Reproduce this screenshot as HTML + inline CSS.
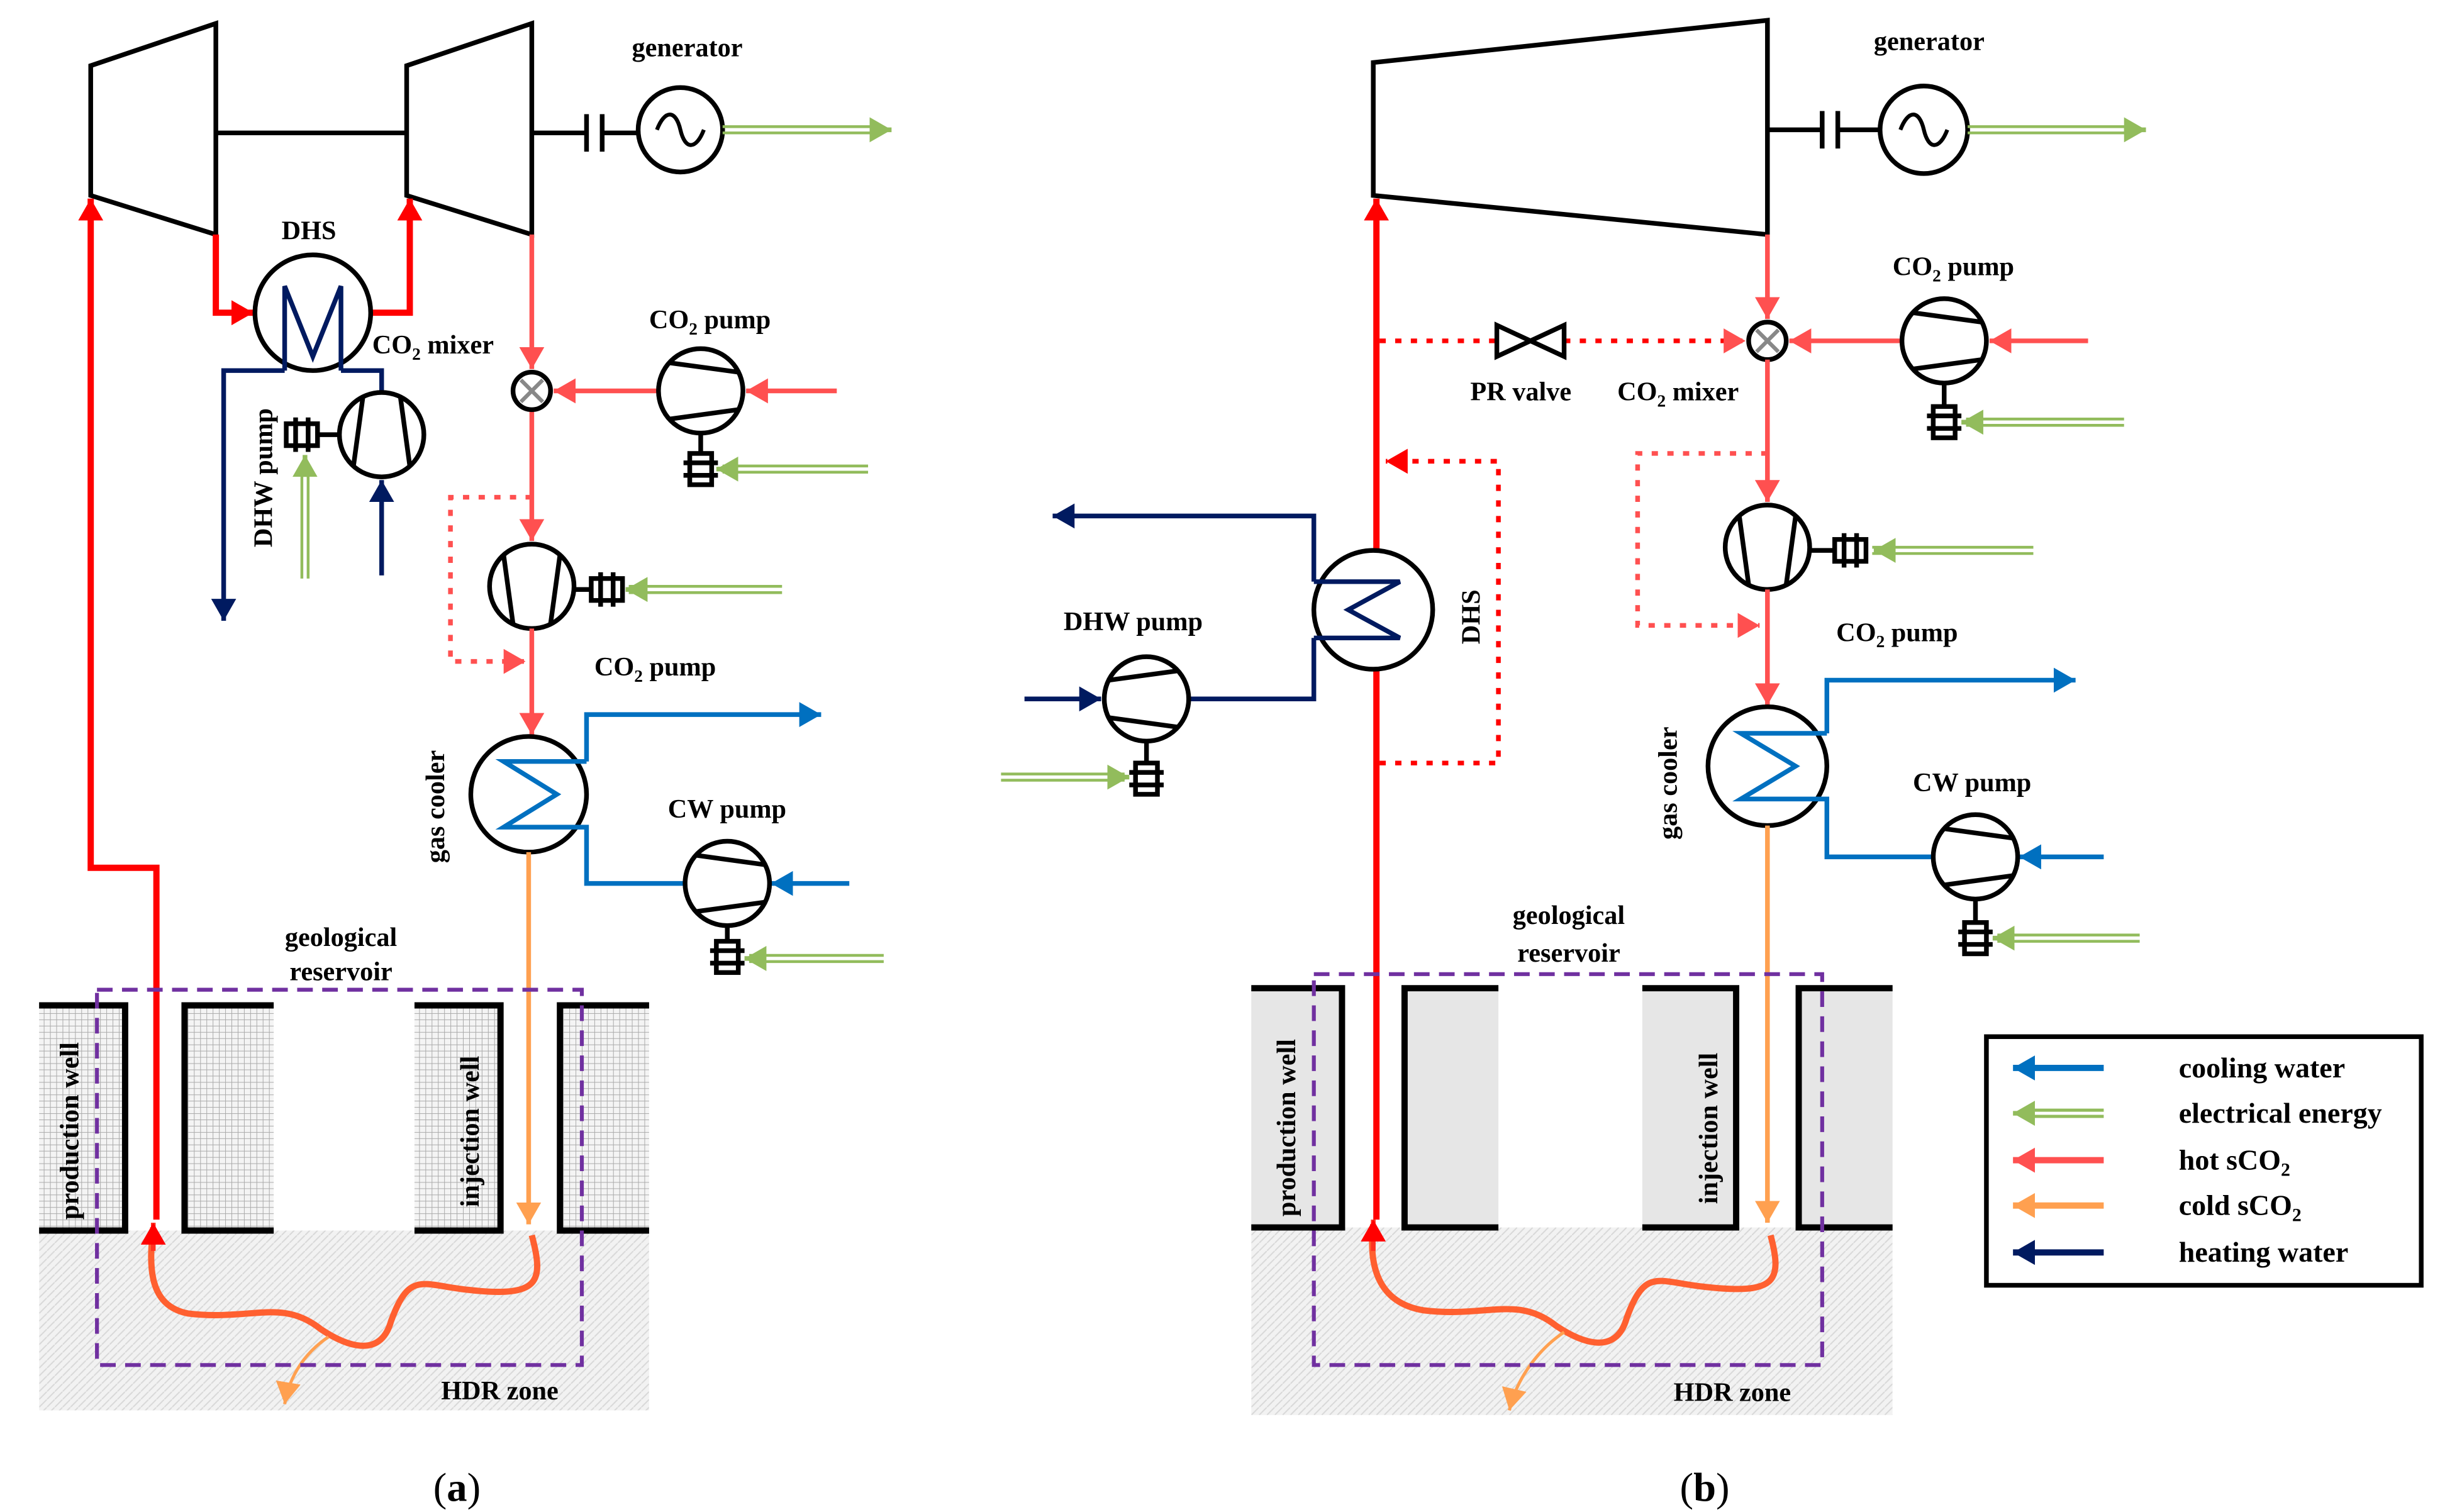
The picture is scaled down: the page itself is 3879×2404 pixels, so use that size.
<!DOCTYPE html>
<html><head><meta charset="utf-8"><style>
html,body{margin:0;padding:0;background:#fff;}
svg{display:block;}
text{font-family:"Liberation Serif",serif;font-weight:bold;fill:#000;}
</style></head><body>
<svg width="3879" height="2404" viewBox="0 0 1560 967" preserveAspectRatio="none" xmlns="http://www.w3.org/2000/svg">
<defs>
<marker id="mR" markerUnits="userSpaceOnUse" markerWidth="20" markerHeight="20" refX="14" refY="8" orient="auto"><path d="M0,0 L14,8 L0,16 Z" fill="#FF0000"/></marker>
<marker id="mr" markerUnits="userSpaceOnUse" markerWidth="20" markerHeight="20" refX="14" refY="8" orient="auto"><path d="M0,0 L14,8 L0,16 Z" fill="#FF5050"/></marker>
<marker id="mo" markerUnits="userSpaceOnUse" markerWidth="20" markerHeight="20" refX="14" refY="8" orient="auto"><path d="M0,0 L14,8 L0,16 Z" fill="#FFA050"/></marker>
<marker id="mb" markerUnits="userSpaceOnUse" markerWidth="20" markerHeight="20" refX="14" refY="8" orient="auto"><path d="M0,0 L14,8 L0,16 Z" fill="#0070C0"/></marker>
<marker id="mn" markerUnits="userSpaceOnUse" markerWidth="20" markerHeight="20" refX="14" refY="8" orient="auto"><path d="M0,0 L14,8 L0,16 Z" fill="#001A60"/></marker>
<marker id="mg" markerUnits="userSpaceOnUse" markerWidth="20" markerHeight="20" refX="14" refY="8" orient="auto"><path d="M0,0 L14,8 L0,16 Z" fill="#92BC5C"/></marker>
<pattern id="grid" width="4" height="4" patternUnits="userSpaceOnUse"><rect width="4" height="4" fill="#f4f4f4"/><path d="M0,0H4M0,0V4" stroke="#aaa" stroke-width="0.8"/></pattern>
<pattern id="hatch" width="5" height="5" patternUnits="userSpaceOnUse"><rect width="5" height="5" fill="#f2f2f2"/><path d="M0,5L5,0" stroke="#d8d8d8" stroke-width="0.8"/></pattern>
<g id="pumpR"><circle r="27" fill="#fff" stroke="#000" stroke-width="3"/><path d="M-24,-12 L20,-18 M-24,12 L20,18" stroke="#000" stroke-width="3"/></g>
<g id="pumpD"><circle r="27" fill="#fff" stroke="#000" stroke-width="3"/><path d="M-12,-24 L-18,20 M12,-24 L18,20" stroke="#000" stroke-width="3"/></g>
<g id="pumpU"><circle r="27" fill="#fff" stroke="#000" stroke-width="3"/><path d="M-12,24 L-18,-20 M12,24 L18,-20" stroke="#000" stroke-width="3"/></g>
<g id="motH"><rect x="-10" y="-7" width="20" height="14" fill="#fff" stroke="#000" stroke-width="3"/><path d="M-4,-11V11M4,-11V11" stroke="#000" stroke-width="3"/></g>
<g id="motV"><rect x="-7" y="-10" width="14" height="20" fill="#fff" stroke="#000" stroke-width="3"/><path d="M-11,-4H11M-11,4H11" stroke="#000" stroke-width="3"/></g>
</defs>

<g fill="none" stroke-width="3">
<!-- ===== Panel (a) ===== -->
<rect x="25" y="787" width="390" height="115" fill="url(#hatch)" stroke="none"/>
<rect x="25" y="643" width="55" height="144" fill="url(#grid)" stroke="none"/>
<rect x="118" y="643" width="57" height="144" fill="url(#grid)" stroke="none"/>
<rect x="265" y="643" width="55" height="144" fill="url(#grid)" stroke="none"/>
<rect x="358" y="643" width="57" height="144" fill="url(#grid)" stroke="none"/>
<path d="M25,643H80V787H25 M175,643H118V787H175 M265,643H320V787H265 M415,643H358V787H415" stroke="#000" stroke-width="4"/>

<path d="M58,42 L138,15 L138,150 L58,125 Z" stroke="#000"/>
<path d="M260,42 L340,15 L340,150 L260,125 Z" stroke="#000"/>
<path d="M138,85H260 M340,85H375 M385,85H408" stroke="#000"/>
<path d="M375,73V97 M385,73V97" stroke="#000" stroke-width="3"/>
<circle cx="435" cy="83" r="27" stroke="#000"/>
<path d="M420,83 C425,70 432,70 435,83 C438,96 445,96 450,83" stroke="#000" stroke-width="2.5"/>
<path d="M462,81H560 M462,85H560" stroke="#92BC5C" stroke-width="1.8"/>
<path d="M556,83H570" stroke="#92BC5C" marker-end="url(#mg)"/>

<path d="M100,780 V555 H58 V127" stroke="#FF0000" stroke-width="4" marker-end="url(#mR)"/>
<path d="M138,150 V200 H162" stroke="#FF0000" stroke-width="4" marker-end="url(#mR)"/>
<path d="M237,200 H262 V127" stroke="#FF0000" stroke-width="4" marker-end="url(#mR)"/>
<circle cx="200" cy="200" r="37" stroke="#000" fill="#fff"/>
<path d="M182,237 V183 L200,228 L218,183 V237" stroke="#001A60"/>
<path d="M182,237 H143 V397" stroke="#001A60" marker-end="url(#mn)"/>
<path d="M218,237 H244 V251" stroke="#001A60"/>
<path d="M244,368 V307" stroke="#001A60" marker-end="url(#mn)"/>
<use href="#pumpD" x="244" y="278"/>
<path d="M217,278H203" stroke="#000"/>
<use href="#motH" x="193" y="278"/>
<path d="M193,370V300 M197,370V300" stroke="#92BC5C" stroke-width="1.8"/>
<path d="M195,305V291" stroke="#92BC5C" marker-end="url(#mg)"/>

<path d="M340,150 V236" stroke="#FF5050" marker-end="url(#mr)"/>
<path d="M340,262 V346" stroke="#FF5050" marker-end="url(#mr)"/>
<circle cx="340" cy="250" r="12" stroke="#000" fill="#fff"/>
<path d="M333,243L347,257M347,243L333,257" stroke="#888" stroke-width="2.5"/>
<path d="M535,250 H477" stroke="#FF5050" marker-end="url(#mr)"/>
<path d="M421,250 H354" stroke="#FF5050" marker-end="url(#mr)"/>
<use href="#pumpR" x="448" y="250" transform="rotate(180 448 250) "/>
<path d="M448,277V290" stroke="#000"/>
<use href="#motV" x="448" y="300"/>
<path d="M555,298H462 M555,302H462" stroke="#92BC5C" stroke-width="1.8"/>
<path d="M470,300H458" stroke="#92BC5C" marker-end="url(#mg)"/>
<path d="M340,318 H288 V423 H336" stroke="#FF5050" stroke-dasharray="4,6" marker-end="url(#mr)"/>
<use href="#pumpU" x="340" y="375"/>
<path d="M367,377H378" stroke="#000"/>
<use href="#motH" x="388" y="377"/>
<path d="M500,375H402 M500,379H402" stroke="#92BC5C" stroke-width="1.8"/>
<path d="M412,377H400" stroke="#92BC5C" marker-end="url(#mg)"/>
<path d="M340,402 V470" stroke="#FF5050" marker-end="url(#mr)"/>
<circle cx="338" cy="508" r="37" stroke="#000" fill="#fff"/>
<path d="M375,487 V457 H525" stroke="#0070C0" marker-end="url(#mb)"/>
<path d="M375,487 H322 L356,508 L322,529 H375 V565 H438" stroke="#0070C0"/>
<path d="M543,565 H493" stroke="#0070C0" marker-end="url(#mb)"/>
<use href="#pumpR" x="465" y="565" transform="rotate(180 465 565)"/>
<path d="M465,592V602" stroke="#000"/>
<use href="#motV" x="465" y="612"/>
<path d="M565,611H479 M565,615H479" stroke="#92BC5C" stroke-width="1.8"/>
<path d="M488,613H476" stroke="#92BC5C" marker-end="url(#mg)"/>
<path d="M338,545 V783" stroke="#FFA050" marker-end="url(#mo)"/>
<path d="M340,790 C348,820 345,830 300,825 C270,822 262,812 250,845 C243,870 220,860 205,850 C180,830 160,845 120,840 C95,835 95,810 98,785" stroke="#FF6030" stroke-width="4"/>
<path d="M98,800 V782" stroke="#FF3020" marker-end="url(#mR)"/>
<path d="M210,855 C195,865 185,880 182,898" stroke="#FFA050" stroke-width="2" marker-end="url(#mo)"/>
<rect x="62" y="633" width="310" height="240" stroke="#7030A0" stroke-width="2.5" stroke-dasharray="10,6"/>

<!-- ===== Panel (b) ===== -->
<rect x="800" y="785" width="410" height="120" fill="url(#hatch)" stroke="none"/>
<rect x="800" y="632" width="58" height="153" fill="#e6e6e6" stroke="none"/>
<rect x="898" y="632" width="60" height="153" fill="#e6e6e6" stroke="none"/>
<rect x="1050" y="632" width="60" height="153" fill="#e6e6e6" stroke="none"/>
<rect x="1150" y="632" width="60" height="153" fill="#e6e6e6" stroke="none"/>
<path d="M800,632H858V785H800 M958,632H898V785H958 M1050,632H1110V785H1050 M1210,632H1150V785H1210" stroke="#000" stroke-width="4"/>

<path d="M878,40 L1130,13 L1130,150 L878,125 Z" stroke="#000"/>
<path d="M1130,83H1165 M1175,83H1202" stroke="#000"/>
<path d="M1165,71V95 M1175,71V95" stroke="#000"/>
<circle cx="1230" cy="83" r="28" stroke="#000"/>
<path d="M1215,83 C1220,70 1227,70 1230,83 C1233,96 1240,96 1245,83" stroke="#000" stroke-width="2.5"/>
<path d="M1258,81H1360 M1258,85H1360" stroke="#92BC5C" stroke-width="1.8"/>
<path d="M1358,83H1372" stroke="#92BC5C" marker-end="url(#mg)"/>

<path d="M880,780 V127" stroke="#FF0000" stroke-width="4" marker-end="url(#mR)"/>
<path d="M882,218 H957 M1000,218 H1116" stroke="#FF0000" stroke-dasharray="4,6" marker-end="url(#mr)"/>
<path d="M957,208 L1000,228 L1000,208 L957,228 Z" stroke="#000"/>
<path d="M1130,150 V204" stroke="#FF5050" marker-end="url(#mr)"/>
<circle cx="1130" cy="218" r="12" stroke="#000" fill="#fff"/>
<path d="M1123,211L1137,225M1137,211L1123,225" stroke="#888" stroke-width="2.5"/>
<path d="M1335,218 H1272" stroke="#FF5050" marker-end="url(#mr)"/>
<path d="M1216,218 H1144" stroke="#FF5050" marker-end="url(#mr)"/>
<use href="#pumpR" x="1243" y="218" transform="rotate(180 1243 218)"/>
<path d="M1243,245V260" stroke="#000"/>
<use href="#motV" x="1243" y="270"/>
<path d="M1358,268H1257 M1358,272H1257" stroke="#92BC5C" stroke-width="1.8"/>
<path d="M1266,270H1254" stroke="#92BC5C" marker-end="url(#mg)"/>
<path d="M882,488 H958 V295 H886" stroke="#FF0000" stroke-dasharray="4,6" marker-end="url(#mR)"/>
<circle cx="878" cy="390" r="38" stroke="#000" fill="#fff"/>
<path d="M840,372 H895 L862,390 L895,408 H840" stroke="#001A60"/>
<path d="M840,372 V330 H673" stroke="#001A60" marker-end="url(#mn)"/>
<path d="M840,408 V447 H760" stroke="#001A60"/>
<path d="M655,447 H704" stroke="#001A60" marker-end="url(#mn)"/>
<use href="#pumpR" x="733" y="447"/>
<path d="M733,474V488" stroke="#000"/>
<use href="#motV" x="733" y="498"/>
<path d="M640,495H719 M640,499H719" stroke="#92BC5C" stroke-width="1.8"/>
<path d="M710,497H722" stroke="#92BC5C" marker-end="url(#mg)"/>
<path d="M1130,230 V321" stroke="#FF5050" marker-end="url(#mr)"/>
<path d="M1130,290 H1047 V400 H1125" stroke="#FF5050" stroke-dasharray="4,6" marker-end="url(#mr)"/>
<use href="#pumpU" x="1130" y="350"/>
<path d="M1157,352H1173" stroke="#000"/>
<use href="#motH" x="1183" y="352"/>
<path d="M1300,350H1197 M1300,354H1197" stroke="#92BC5C" stroke-width="1.8"/>
<path d="M1210,352H1198" stroke="#92BC5C" marker-end="url(#mg)"/>
<path d="M1130,377 V451" stroke="#FF5050" marker-end="url(#mr)"/>
<circle cx="1130" cy="490" r="38" stroke="#000" fill="#fff"/>
<path d="M1168,469 V435 H1327" stroke="#0070C0" marker-end="url(#mb)"/>
<path d="M1168,469 H1113 L1148,490 L1113,511 H1168 V548 H1236" stroke="#0070C0"/>
<path d="M1345,548 H1291" stroke="#0070C0" marker-end="url(#mb)"/>
<use href="#pumpR" x="1263" y="548" transform="rotate(180 1263 548)"/>
<path d="M1263,575V590" stroke="#000"/>
<use href="#motV" x="1263" y="600"/>
<path d="M1368,598H1277 M1368,602H1277" stroke="#92BC5C" stroke-width="1.8"/>
<path d="M1286,600H1274" stroke="#92BC5C" marker-end="url(#mg)"/>
<path d="M1130,528 V782" stroke="#FFA050" marker-end="url(#mo)"/>
<path d="M1132,790 C1140,820 1135,828 1090,823 C1060,820 1052,810 1040,843 C1033,868 1010,858 995,848 C970,828 950,843 910,838 C880,833 875,808 878,783" stroke="#FF6030" stroke-width="4"/>
<path d="M878,800 V780" stroke="#FF3020" marker-end="url(#mR)"/>
<path d="M1000,852 C985,862 970,880 965,902" stroke="#FFA050" stroke-width="2" marker-end="url(#mo)"/>
<rect x="840" y="623" width="325" height="250" stroke="#7030A0" stroke-width="2.5" stroke-dasharray="10,6"/>

<!-- legend -->
<rect x="1270" y="663" width="278" height="159" stroke="#000" stroke-width="3"/>
<path d="M1345,683H1287" stroke="#0070C0" stroke-width="4" marker-end="url(#mb)"/>
<path d="M1345,710H1295 M1345,714H1295" stroke="#92BC5C" stroke-width="2"/>
<path d="M1300,712H1287" stroke="#92BC5C" marker-end="url(#mg)"/>
<path d="M1345,742H1287" stroke="#FF5050" stroke-width="4" marker-end="url(#mr)"/>
<path d="M1345,771H1287" stroke="#FFA050" stroke-width="4" marker-end="url(#mo)"/>
<path d="M1345,801H1287" stroke="#001A60" stroke-width="4" marker-end="url(#mn)"/>
</g>

<g font-size="17">
<text x="404" y="36">generator</text>
<text x="180" y="153">DHS</text>
<text x="238" y="226">CO<tspan font-size="11" dy="4">2</tspan><tspan dy="-4"> mixer</tspan></text>
<text x="415" y="210">CO<tspan font-size="11" dy="4">2</tspan><tspan dy="-4"> pump</tspan></text>
<text x="380" y="432">CO<tspan font-size="11" dy="4">2</tspan><tspan dy="-4"> pump</tspan></text>
<text transform="translate(174,350) rotate(-90)">DHW pump</text>
<text transform="translate(284,552) rotate(-90)">gas cooler</text>
<text x="427" y="523">CW pump</text>
<text x="218" y="605" text-anchor="middle">geological</text>
<text x="218" y="627" text-anchor="middle">reservoir</text>
<text transform="translate(50,780) rotate(-90)">production well</text>
<text transform="translate(306,772) rotate(-90)">injection well</text>
<text x="282" y="895">HDR zone</text>

<text x="1198" y="32">generator</text>
<text x="940" y="256">PR valve</text>
<text x="1034" y="256">CO<tspan font-size="11" dy="4">2</tspan><tspan dy="-4"> mixer</tspan></text>
<text x="1210" y="176">CO<tspan font-size="11" dy="4">2</tspan><tspan dy="-4"> pump</tspan></text>
<text x="1174" y="410">CO<tspan font-size="11" dy="4">2</tspan><tspan dy="-4"> pump</tspan></text>
<text x="680" y="403">DHW pump</text>
<text transform="translate(946,412) rotate(-90)">DHS</text>
<text transform="translate(1072,537) rotate(-90)">gas cooler</text>
<text x="1223" y="506">CW pump</text>
<text x="1003" y="591" text-anchor="middle">geological</text>
<text x="1003" y="615" text-anchor="middle">reservoir</text>
<text transform="translate(828,778) rotate(-90)">production well</text>
<text transform="translate(1098,770) rotate(-90)">injection well</text>
<text x="1070" y="896">HDR zone</text>
</g>
<g font-size="18.5">
<text x="1393" y="689">cooling water</text>
<text x="1393" y="718">electrical energy</text>
<text x="1393" y="748">hot sCO<tspan font-size="12" dy="4">2</tspan></text>
<text x="1393" y="777">cold sCO<tspan font-size="12" dy="4">2</tspan></text>
<text x="1393" y="807">heating water</text>
</g>
<text x="277" y="960" font-size="26" style="font-weight:normal">(<tspan font-weight="bold">a</tspan>)</text>
<text x="1074" y="960" font-size="26" style="font-weight:normal">(<tspan font-weight="bold">b</tspan>)</text>
</svg>
</body></html>
